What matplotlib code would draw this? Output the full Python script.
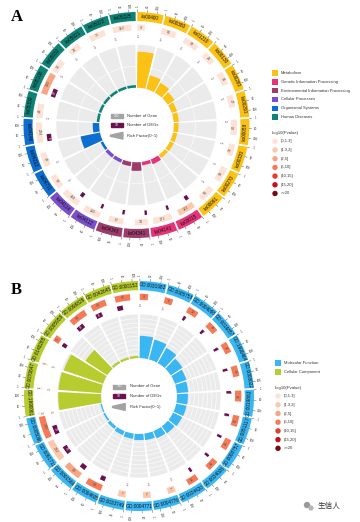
import numpy as np
import matplotlib
matplotlib.use("Agg")
import matplotlib.pyplot as plt
from matplotlib.patches import Rectangle, Polygon, Circle

plt.rcParams["font.family"] = ["Liberation Sans", "DejaVu Sans"]

# ---- panel A: KEGG pathways ----
a_ids = ["ko00400", "ko00380", "ko01210", "ko00130", "ko00260", "ko00290", "ko00058",
         "ko00330", "ko00270", "ko00061", "ko03015", "ko04141", "ko04341", "ko04340",
         "ko04112", "ko04114", "ko04711", "ko04213", "ko04146", "ko05330", "ko05168",
         "ko05032", "ko05021", "ko05022", "ko05225"]
a_groups = ["Metabolism", "Genetic Information Processing", "Environmental Information Processing",
            "Cellular Processes", "Organismal Systems", "Human Diseases"]
a_group_sizes = [10, 2, 2, 2, 3, 6]
a_group_colors = ["#FBC115", "#E53479", "#9C3B6C", "#7A4FC9", "#0B6ED0", "#0D8275"]
a_genes = [8, 56, 62, 25, 34, 27, 60, 23, 59, 56, 102, 171, 34, 57, 100, 144, 38, 42, 224,
           49, 360, 36, 25, 75, 152]
a_pcls = [0, 0, 0, 0, 0, 0, 0, 0, 0, 0, 1, 0, 0, 0, 0, 0, 0, 0, 0, 0, 2, 0, 0, 0, 0]
a_degs = [1, 1, 1, 1, 1, 1, 1, 1, 1, 1, 3, 2, 2, 2, 2, 3, 1, 1, 8, 1, 12, 1, 1, 1, 1]
a_rich = [0.84, 0.33, 0.26, 0.19, 0.13, 0.12, 0.11, 0.10, 0.10, 0.09, 0.12, 0.08, 0.20,
          0.10, 0.08, 0.08, 0.06, 0.46, 0.15, 0.06, 0.06, 0.06, 0.06, 0.06, 0.06]

# ---- panel B: GO terms ----
b_ids = ["GO:0031982", "GO:0005758", "GO:0004088", "GO:0016857", "GO:1990464", "GO:0008022",
         "GO:0019863", "GO:0051117", "GO:0008757", "GO:0034026", "GO:0034420", "GO:0004776",
         "GO:0004771", "GO:0033749", "GO:0004605", "GO:0001566", "GO:0061711", "GO:0005096",
         "GO:1990061", "GO:0070847", "GO:0140285", "GO:0005958", "GO:0098828", "GO:0042645",
         "GO:0000152"]
b_groups = ["Molecular Function", "Cellular Component"]
b_group_sizes = [18, 7]
b_group_colors = ["#3AB7F3", "#B7CC2E"]
b_genes = [8, 8, 16, 16, 16, 16, 16, 16, 16, 16, 16, 7, 7, 7, 63, 84, 232, 285, 1, 1, 1, 5,
           86, 48, 48]
b_pcls = [3, 3, 3, 3, 3, 3, 3, 3, 3, 3, 3, 1, 1, 1, 3, 2, 1, 3, 0, 0, 0, 3, 3, 3, 3]
b_degs = [1, 1, 2, 2, 2, 2, 2, 2, 2, 2, 2, 1, 1, 1, 4, 5, 10, 12, 1, 1, 1, 3, 8, 6, 5]
b_rich = [0.51, 0.47, 0.40, 0.32, 0.28, 0.26, 0.25, 0.24, 0.23, 0.20, 0.18, 0.15, 0.14,
          0.12, 0.10, 0.07, 0.04, 0.03, 0.98, 0.98, 0.95, 0.60, 0.05, 0.05, 0.05]

pval_labels = ["(0,1.3]", "(1.3,2]", "(2,5]", "(5,10]", "(10,15]", "(15,20]", ">=20"]
pval_colors = ["#FDE3D6", "#FCC9AE", "#F9A482", "#F57B58", "#E2402F", "#C1121C", "#770A12"]
deg_color = "#6A1150"

RMAX = 1.2
R_IN, R_OUT = 0.33, 0.71


def tan_rot(d):
    r = -d
    if 90 < d < 270:
        r += 180
    return r


def rad_rot(d):
    r = 90 - d
    if 180 < d < 360:
        r += 180
    return r


def draw_circos(ax, ids, group_sizes, group_colors, genes, pcls, degs, rich, n_grid):
    n = len(ids)
    colors = np.repeat(group_colors, group_sizes)
    step = 2 * np.pi / n
    start = np.arange(n) * step
    mid = start + step / 2
    g_band = np.deg2rad(0.9)
    g_in = np.deg2rad(1.6)
    span = step - g_band
    L = np.log10(max(genes)) * 1.05
    ax.set_theta_zero_location("N")
    ax.set_theta_direction(-1)

    # outer band with ids
    ax.bar(start + g_band / 2, 0.08, width=span, bottom=0.92, align="edge", color=colors, lw=0)
    for i in range(n):
        d = np.degrees(mid[i])
        ax.text(mid[i], 0.96, ids[i], rotation=tan_rot(d), ha="center", va="center",
                rotation_mode="anchor", fontsize=3.4, color="#111111")
        for v in (1, 10, 100):
            t = start[i] + g_band / 2 + np.log10(v) / L * span
            ax.plot([t, t], [1.0, 1.02], color="#444444", lw=0.3)
            ax.text(t, 1.055, str(v), rotation=rad_rot(np.degrees(t)), ha="center", va="center",
                    rotation_mode="anchor", fontsize=2.2, color="#333333")

    # gene number track
    gw = np.maximum(np.log10(genes) / L, 0.07) * span
    ax.bar(start + g_band / 2, 0.055, width=gw, bottom=0.835, align="edge",
           color=[pval_colors[c] for c in pcls], lw=0)
    for i in range(n):
        t = start[i] + g_band / 2 + gw[i] / 2
        ax.text(t, 0.863, str(genes[i]), rotation=tan_rot(np.degrees(t)), ha="center",
                va="center", rotation_mode="anchor", fontsize=2.7, color="#555555")

    # DEG track
    dw = np.log10(degs) / L * span
    ax.bar(start + g_band / 2, 0.04, width=dw, bottom=0.76, align="edge", color=deg_color, lw=0)
    for i in range(n):
        t = start[i] + g_band / 2 + max(dw[i], 0.01) / 2
        big = dw[i] > 0.3 * span
        ax.text(t, 0.78, str(degs[i]), rotation=tan_rot(np.degrees(t)), ha="center",
                va="center", rotation_mode="anchor", fontsize=2.6,
                color="white" if big else deg_color)

    # rich factor track
    ax.bar(start + g_in / 2, R_OUT - R_IN, width=step - g_in, bottom=R_IN, align="edge",
           color="#EBEBEB", lw=0, zorder=1)
    th = np.linspace(0, 2 * np.pi, 400)
    for k in range(1, n_grid):
        ax.plot(th, np.full_like(th, R_IN + k * (R_OUT - R_IN) / n_grid), color="white",
                lw=0.4, zorder=1.5)
    ax.bar(start + g_in / 2, np.array(rich) * (R_OUT - R_IN), width=step - g_in, bottom=R_IN,
           align="edge", color=colors, lw=0, zorder=2)

    # centre key
    f = 0.5 / RMAX

    def P(x, y):
        return (0.5 + x * f, 0.5 + y * f)

    kw = dict(transform=ax.transAxes, clip_on=False)
    ax.add_patch(Rectangle(P(-0.23, 0.065), 0.11 * f, 0.035 * f, color="#A3A3A3", **kw))
    ax.text(*P(-0.175, 0.083), "100", fontsize=2.3, color="white", ha="center", va="center", **kw)
    ax.add_patch(Rectangle(P(-0.23, -0.017), 0.11 * f, 0.035 * f, color=deg_color, **kw))
    ax.text(*P(-0.175, 0.0), "10", fontsize=2.3, color="white", ha="center", va="center", **kw)
    ax.add_patch(Polygon([P(-0.23, -0.09), P(-0.12, -0.065), P(-0.12, -0.125), P(-0.23, -0.1)],
                         closed=True, color="#A3A3A3", **kw))
    for y, s in zip((0.083, 0.0, -0.095), ("Number of Gene", "Number of DEGs", "Rich Factor(0~1)")):
        ax.text(*P(-0.08, y), s, fontsize=3.0, color="#333333", ha="left", va="center", **kw)

    ax.set_thetalim(0, 2 * np.pi)
    ax.set_ylim(0, RMAX)
    ax.axis("off")


fig = plt.figure(figsize=(3.6, 5.22), dpi=100)

ov = fig.add_axes([0, 0, 1, 1])
ov.set_xlim(0, 360)
ov.set_ylim(522, 0)
ov.axis("off")
ov.patch.set_visible(False)

axA = fig.add_axes([0.0025, 0.5008, 0.7533, 0.5195], projection="polar")
draw_circos(axA, a_ids, a_group_sizes, a_group_colors, a_genes, a_pcls, a_degs, a_rich, 2)

axB = fig.add_axes([0.0028, -0.023, 0.7667, 0.5287], projection="polar")
draw_circos(axB, b_ids, b_group_sizes, b_group_colors, b_genes, b_pcls, b_degs, b_rich, 10)

fig.text(0.03, 0.968, "A", fontsize=12, fontweight="bold", family="Liberation Serif", va="center")
fig.text(0.03, 0.445, "B", fontsize=12, fontweight="bold", family="Liberation Serif", va="center")


def side_legend(x, y0, groups, colors, dy=8.8):
    for k, (g, c) in enumerate(zip(groups, colors)):
        y = y0 + k * dy
        ov.add_patch(Rectangle((x - 2.7, y - 2.7), 5.4, 5.4, color=c, lw=0))
        ov.text(x + 6, y, g, fontsize=3.0, va="center", color="#333333")
    yt = y0 + len(groups) * dy + 7
    ov.text(x - 3, yt, "-log10(Pvalue)", fontsize=3.1, va="center", color="#333333")
    for k, (lab, c) in enumerate(zip(pval_labels, pval_colors)):
        y = yt + 8.5 + k * 8.7
        ov.add_patch(Circle((x, y), 2.7, color=c, lw=0))
        ov.text(x + 6, y, lab, fontsize=3.0, va="center", color="#333333")


side_legend(275, 73, a_groups, a_group_colors)
side_legend(278, 363, b_groups, b_group_colors)

# watermark
ov.add_patch(Circle((307, 505), 3.2, color="#9A9A9A", lw=0))
ov.add_patch(Circle((311, 508), 2.6, color="#B5B5B5", lw=0))
ov.text(318, 506, "生信人", fontsize=5.5, va="center", color="#333333",
        family=["Noto Sans CJK SC", "DejaVu Sans"])

fig.savefig("out.png", dpi=100)
